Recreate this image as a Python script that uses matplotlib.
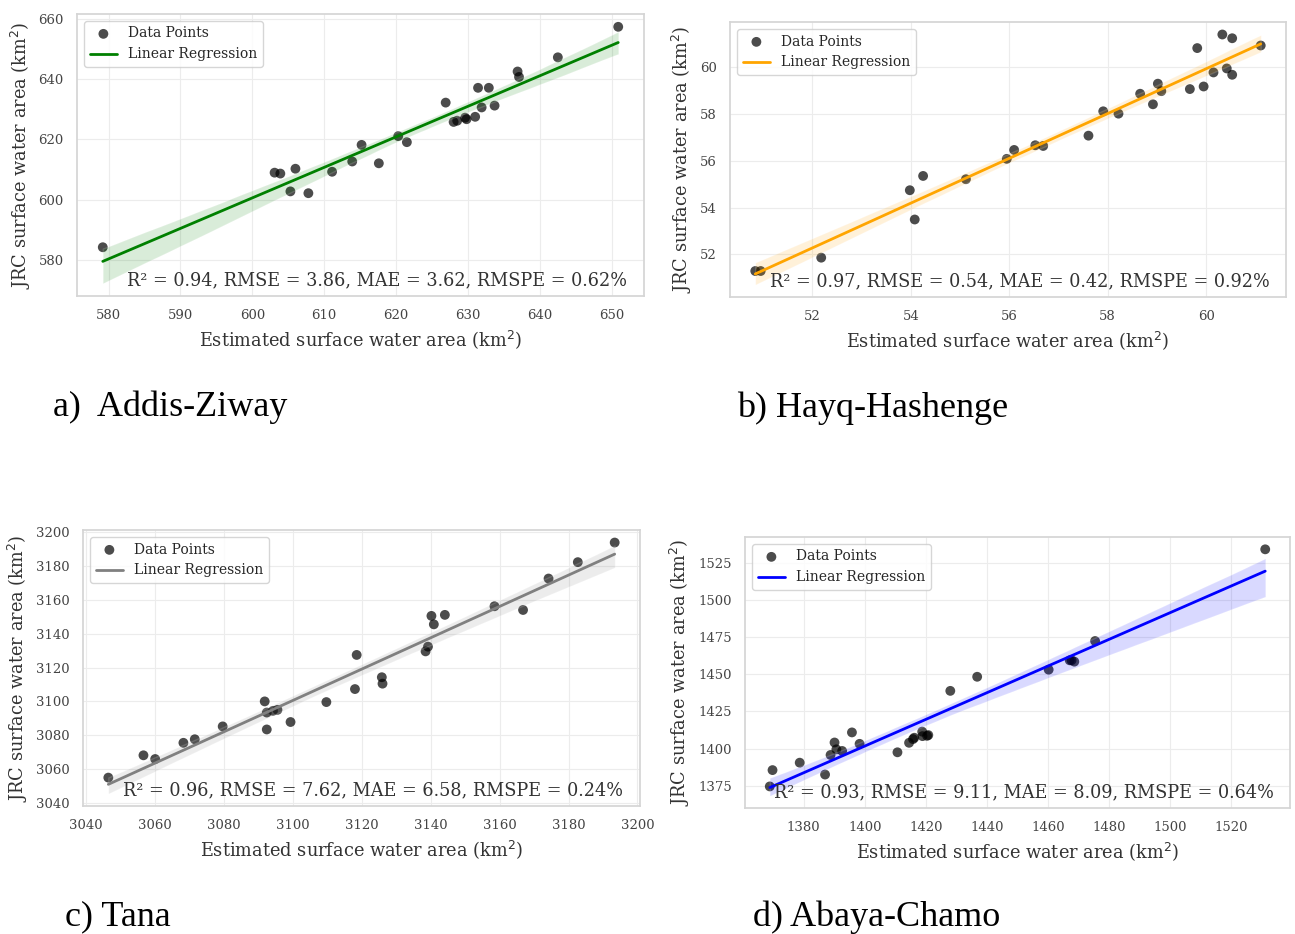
import matplotlib
matplotlib.use('Agg')
import matplotlib.pyplot as plt
import seaborn as sns

# Addis-Ziway
ziway_est = [579.2, 603.1, 603.9, 606.0, 605.3, 607.8, 611.1, 613.9, 615.2, 617.6,
             620.3, 621.5, 626.9, 628.0, 628.5, 629.6, 629.8, 631.0, 631.4, 632.9,
             631.9, 633.7, 636.9, 637.1, 642.5, 650.9]
ziway_jrc = [584.3, 609.0, 608.7, 610.3, 602.8, 602.2, 609.3, 612.7, 618.2, 612.1,
             621.1, 619.1, 632.2, 625.8, 626.2, 627.2, 626.7, 627.5, 637.1, 637.1,
             630.6, 631.2, 642.5, 640.7, 647.2, 657.3]

# Hayq-Hashenge
hayq_est = [50.84, 50.95, 52.18, 53.98, 54.08, 54.25, 55.12, 55.95, 56.10, 56.53,
            56.69, 57.61, 57.91, 58.22, 58.66, 58.92, 59.02, 59.09, 59.67, 59.82,
            59.95, 60.15, 60.33, 60.42, 60.53, 60.53, 61.11]
hayq_jrc = [51.29, 51.29, 51.86, 54.74, 53.49, 55.35, 55.21, 56.08, 56.46, 56.66,
            56.63, 57.07, 58.11, 58.01, 58.86, 58.41, 59.29, 58.97, 59.06, 60.81,
            59.17, 59.77, 61.39, 59.94, 61.23, 59.67, 60.92]

# Tana
tana_est = [3046.4, 3056.6, 3060.0, 3068.2, 3071.5, 3079.6, 3091.8, 3092.4, 3092.4, 3094.2,
            3095.5, 3099.3, 3109.7, 3118.0, 3118.5, 3125.8, 3126.0, 3138.5, 3139.2, 3140.2,
            3140.9, 3144.1, 3158.5, 3166.8, 3174.2, 3182.7, 3193.4]
tana_jrc = [3054.9, 3068.1, 3065.9, 3075.5, 3077.6, 3085.2, 3100.0, 3093.4, 3083.4, 3094.4,
            3095.0, 3087.8, 3099.6, 3107.3, 3127.5, 3114.3, 3110.5, 3129.6, 3132.4, 3150.6,
            3145.6, 3151.2, 3156.3, 3154.1, 3172.7, 3182.4, 3194.0]

# Abaya-Chamo
abaya_est = [1368.9, 1369.8, 1378.7, 1387.0, 1388.8, 1390.1, 1390.7, 1392.6, 1395.8, 1398.3,
             1410.7, 1414.5, 1415.8, 1416.2, 1418.8, 1418.9, 1420.4, 1420.8, 1428.0, 1436.8,
             1460.2, 1467.1, 1467.7, 1468.6, 1475.4, 1531.1]
abaya_jrc = [1374.5, 1385.5, 1390.5, 1382.5, 1395.7, 1404.1, 1399.5, 1398.4, 1410.9, 1403.2,
             1397.5, 1403.9, 1406.4, 1407.3, 1411.4, 1408.4, 1408.6, 1409.1, 1438.9, 1448.4,
             1453.2, 1459.5, 1459.5, 1458.6, 1472.5, 1534.3]

stats = ['R\u00b2 = 0.94, RMSE = 3.86, MAE = 3.62, RMSPE = 0.62%',
         'R\u00b2 = 0.97, RMSE = 0.54, MAE = 0.42, RMSPE = 0.92%',
         'R\u00b2 = 0.96, RMSE = 7.62, MAE = 6.58, RMSPE = 0.24%',
         'R\u00b2 = 0.93, RMSE = 9.11, MAE = 8.09, RMSPE = 0.64%']
captions = ['a)  Addis-Ziway', 'b) Hayq-Hashenge', 'c) Tana', 'd) Abaya-Chamo']
line_colors = ['green', 'orange', 'gray', 'blue']

sns.set_theme(style='whitegrid', rc={'grid.color': '#ececec', 'grid.linewidth': 0.8,
                                     'axes.edgecolor': '#d5d5d5'})
plt.rcParams['font.family'] = ['DejaVu Serif']

W, H = 1295, 934
fig = plt.figure(figsize=(W / 100, H / 100), dpi=100)


def px_rect(left, top, right, bottom):
    return [left / W, 1 - bottom / H, (right - left) / W, (bottom - top) / H]


rects = [px_rect(77, 14, 644, 296), px_rect(730, 22, 1286, 297),
         px_rect(83, 530, 640, 806), px_rect(745, 537, 1290, 808)]
datasets = [(ziway_est, ziway_jrc), (hayq_est, hayq_jrc),
            (tana_est, tana_jrc), (abaya_est, abaya_jrc)]

for rect, (x, y), color, txt in zip(rects, datasets, line_colors, stats):
    ax = fig.add_axes(rect)
    sns.regplot(x=x, y=y, ax=ax, ci=95, seed=3, label='Data Points',
                scatter_kws={'color': 'black', 'alpha': 0.7, 's': 50, 'edgecolor': 'none'},
                line_kws={'color': color, 'lw': 2, 'label': 'Linear Regression'})
    ax.set_xlabel('Estimated surface water area (km$^2$)', fontsize=12.8, color='#333333')
    ax.set_ylabel('JRC surface water area (km$^2$)', fontsize=12.8, color='#333333')
    ax.tick_params(labelsize=9.5, colors='#444444')
    ax.text(0.97, 0.025, txt, transform=ax.transAxes, ha='right', va='bottom',
            fontsize=12.7, color='#333333')
    ax.legend(loc='upper left', fontsize=10, frameon=True)

cap_pos = [(53, 407), (737, 408), (65, 917), (753, 917)]
for (cx, cy), cap in zip(cap_pos, captions):
    fig.text(cx / W, 1 - cy / H, cap, fontsize=26, family='Liberation Serif',
             va='center', ha='left', color='black')

fig.savefig('out.png', dpi=100, facecolor='white')
